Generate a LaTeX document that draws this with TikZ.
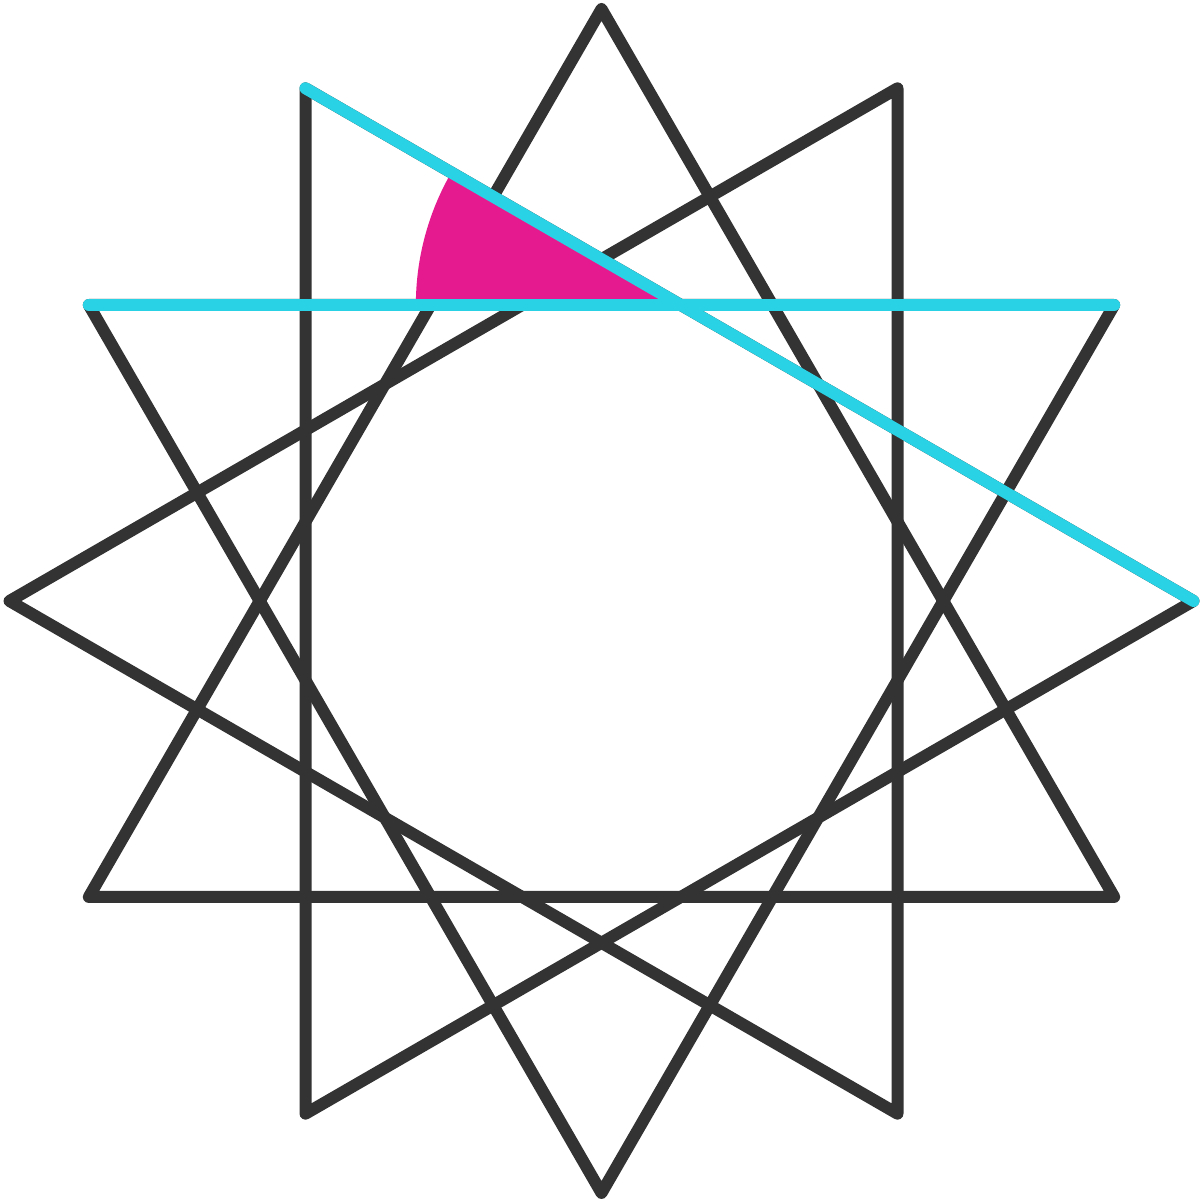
\documentclass[tikz,border=0pt]{standalone}
\usetikzlibrary{calc}
\definecolor{darkline}{HTML}{333333}
\definecolor{cyanline}{HTML}{29D3E5}
\definecolor{magsector}{HTML}{E61A8F}
\tikzset{
  tri/.style={draw=darkline, line width=12pt, line cap=round, line join=round},
  hi/.style={draw=cyanline, line width=12pt, line cap=round},
  sector/.style={fill=magsector}
}
\begin{document}
\begin{tikzpicture}[x=1pt,y=1pt]
\useasboundingbox (0,0) rectangle (1200,1202);
\coordinate (c) at (601.5,601);
\foreach \a in {0,30,...,330} {
  \coordinate (v\a) at ($(c)+(\a:592)$);
}
% triangles
\draw[tri] (v90) -- (v210) -- (v330) -- cycle;
\draw[tri] (v270) -- (v30) -- (v150) -- cycle;
\draw[tri] (v180) -- (v60) -- (v300) -- cycle;
\draw[tri] (v0) -- (v120) -- (v240) -- cycle;
% angle sector
\coordinate (p) at (intersection of v150--v30 and v120--v0);
\fill[sector] (p) -- ++(180:265) arc[start angle=180, end angle=150, radius=265] -- cycle;
% highlighted edges
\draw[hi] (v150) -- (v30);
\draw[hi] (v120) -- (v0);
\end{tikzpicture}
\end{document}
